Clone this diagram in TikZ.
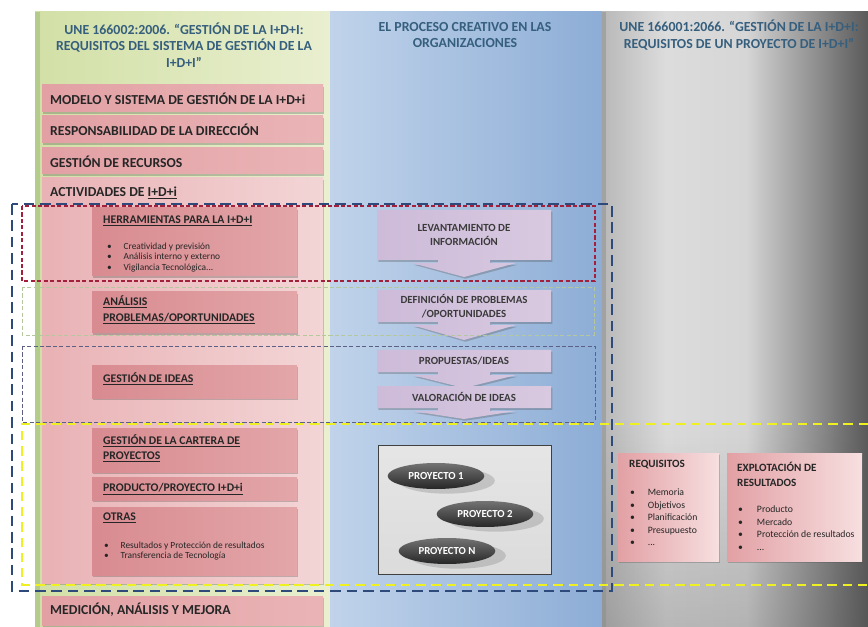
\documentclass[tikz,border=0pt]{standalone}
\usepackage{fontspec}
\setmainfont{Carlito}
\usetikzlibrary{shadows,shapes.geometric,fadings}

\definecolor{hdrblue}{HTML}{365F7E}
\definecolor{txtdark}{HTML}{262626}
\definecolor{procdark}{HTML}{3A3A3A}
\definecolor{colLA}{HTML}{D2E0A6}
\definecolor{colLB}{HTML}{E9EFD0}
\definecolor{colLedge}{HTML}{B3CC8C}
\definecolor{midA}{HTML}{C0D3EA}
\definecolor{midB}{HTML}{E2EAF4}
\definecolor{midC}{HTML}{8DADD6}
\definecolor{gA}{HTML}{B8B8B8}
\definecolor{gB}{HTML}{DCDCDC}
\definecolor{gC}{HTML}{D6D6D6}
\definecolor{gD}{HTML}{5A5A5A}
\definecolor{pinkA}{HTML}{E2A0A4}
\definecolor{pinkB}{HTML}{F7DFE0}
\definecolor{pinkC}{HTML}{EAB4B6}
\definecolor{bigA}{HTML}{E9B2B5}
\definecolor{bigB}{HTML}{F3D5D6}
\definecolor{innA}{HTML}{D88B90}
\definecolor{innB}{HTML}{E3A6A9}
\definecolor{lavA}{HTML}{CDBBD9}
\definecolor{lavB}{HTML}{F2ECF5}
\definecolor{lavC}{HTML}{D8C9E0}
\definecolor{dashblue}{HTML}{2E4A7A}
\definecolor{dashred}{HTML}{A2203C}
\definecolor{dashgreen}{HTML}{B5C79C}
\definecolor{dashslate}{HTML}{5C6084}
\definecolor{dashyellow}{HTML}{EEF022}

% grey background of the project column: light in the middle, dark to the right
\pgfdeclarehorizontalshading{greycol}{100bp}{color(0bp)=(gA); color(25bp)=(gA);
  color(37bp)=(gB); color(52bp)=(gC); color(75bp)=(gD); color(100bp)=(gD)}

\newcommand{\bl}{\makebox[14pt][l]{\textbullet}}
\newcommand{\blr}{\makebox[15pt][l]{\textbullet}}

% process step: a box whose lower edge turns into a down arrow
% #1 name, #2 left, #3 right, #4 top, #5 bottom, #6 arrow tip, #7 text
\newcommand{\procstep}[7]{%
  \path[procshape] (#2,#4) -- (#3,#4) -- (#3,#5)
    -- ({(#2+#3)/2+26},#5) -- ({(#2+#3)/2+26},{#5+3})
    -- ({(#2+#3)/2+52},{#5+3}) -- ({(#2+#3)/2},#6)
    -- ({(#2+#3)/2-52},{#5+3}) -- ({(#2+#3)/2-26},{#5+3})
    -- ({(#2+#3)/2-26},#5) -- (#2,#5) -- cycle;
  \node[proctext] (#1) at ({(#2+#3)/2},{(#4+#5)/2}) {#7};}

\begin{document}
\begin{tikzpicture}[x=0.03cm,y=-0.03cm,
  hdr/.style={font=\bfseries\fontsize{11.8}{14}\selectfont, text=hdrblue, align=center, inner sep=0pt},
  shadowed/.style={drop shadow={shadow xshift=1.2pt, shadow yshift=-1.5pt, opacity=.3, fill=black!70}},
  outerbox/.style={left color=pinkA, middle color=pinkB, right color=pinkC, shadowed},
  bigbox/.style={left color=bigA, right color=bigB, shadowed},
  innerbox/.style={left color=innA, right color=innB, shadowed},
  rbox/.style={left color=pinkA, right color=pinkB, shadowed},
  ltitle/.style={font=\bfseries\fontsize{11.7}{13}\selectfont, text=txtdark, anchor=west, inner sep=0pt},
  ititle/.style={font=\bfseries\fontsize{10}{13}\selectfont, text=txtdark, anchor=west, align=left, inner sep=0pt},
  bul/.style={font=\fontsize{8}{9}\selectfont, text=txtdark, anchor=west, align=left, inner sep=0pt},
  rbul/.style={font=\fontsize{8.3}{10.7}\selectfont, text=txtdark, anchor=west, align=left, inner sep=0pt},
  rtitle/.style={font=\bfseries\fontsize{9.5}{12.8}\selectfont, text=txtdark, anchor=west, align=left, inner sep=0pt},
  procshape/.style={left color=lavA, middle color=lavB, right color=lavC, shadowed},
  proctext/.style={font=\bfseries\fontsize{9.3}{12}\selectfont, text=procdark, align=center, inner sep=0pt},
  proj/.style={ellipse, minimum width=2.9cm, minimum height=0.78cm, top color=black!55, bottom color=black!85,
    text=white, font=\bfseries\fontsize{9.2}{10}\selectfont, inner sep=1pt,
    drop shadow={shadow xshift=9pt, shadow yshift=-4pt, opacity=.25, fill=black!60}},
  bluedash/.style={draw=dashblue, line width=1.8pt, dash pattern=on 9pt off 5pt},
  reddash/.style={draw=dashred, line width=1.3pt, dash pattern=on 3.5pt off 2pt},
  greendash/.style={draw=dashgreen, line width=0.7pt, dash pattern=on 3.5pt off 2pt},
  slatedash/.style={draw=dashslate, line width=0.7pt, dash pattern=on 3.5pt off 2pt},
  yellowdash/.style={draw=dashyellow, line width=1.9pt, dash pattern=on 8pt off 5pt}
]
\useasboundingbox (0,0) rectangle (868,627);
\fill[white] (0,0) rectangle (868,627);

% ---- column backgrounds ----
\shade[left color=colLA, right color=colLB] (35,12) rectangle (330,627);
\fill[colLedge] (35,12) rectangle (40,627);
\shade[left color=midA, middle color=midB, right color=midC] (330,12) rectangle (602,627);
\shade[shading=greycol] (602,12) rectangle (868,627);
\fill[black!70, path fading=north, opacity=.25] (602,420) rectangle (868,627);
\fill[black!45, opacity=.5] (602,12) rectangle (606,627);

% ---- column headings ----
\node[hdr] (hleft) at (184,45) {UNE 166002:2006. “GESTIÓN DE LA I+D+I:\\REQUISITOS DEL SISTEMA DE GESTIÓN DE LA\\I+D+I”};
\node[hdr] (hmid) at (465,35) {EL PROCESO CREATIVO EN LAS\\ORGANIZACIONES};
\node[hdr] (hright) at (739,35) {UNE 166001:2066. “GESTIÓN DE LA I+D+I:\\REQUISITOS DE UN PROYECTO DE I+D+I”};

% ---- management system blocks ----
\path[outerbox] (42,85) rectangle (323,112);
\node[ltitle] (modelo) at (50,98.5) {MODELO Y SISTEMA DE GESTIÓN DE LA I+D+i};
\path[outerbox] (42,116) rectangle (323,143);
\node[ltitle] (direccion) at (50,130) {RESPONSABILIDAD DE LA DIRECCIÓN};
\path[outerbox] (42,148) rectangle (323,174);
\node[ltitle] (recursos) at (50,161.5) {GESTIÓN DE RECURSOS};
\path[bigbox] (42,178) rectangle (323,583);
\node[ltitle] (actividades) at (50,193) {ACTIVIDADES DE \underline{I+D+i}};
\path[outerbox] (42,596) rectangle (323,625);
\node[ltitle] (medicion) at (50,610) {MEDICIÓN, ANÁLISIS Y MEJORA};

% ---- activities ----
\path[innerbox] (92,208) rectangle (297,276);
\node[ititle] (herr) at (103,221) {\underline{HERRAMIENTAS PARA LA I+D+I}};
\node[bul] (herrlist) at (107,257.5) {\bl Creatividad y previsión\\\bl Análisis interno y externo\\\bl Vigilancia Tecnológica...};

\path[innerbox] (92,292) rectangle (297,333);
\node[ititle] (analisis) at (103,310) {\underline{ANÁLISIS}\\\underline{PROBLEMAS/OPORTUNIDADES}};

\path[innerbox] (92,365) rectangle (297,398);
\node[ititle] (ideas) at (103,378.5) {\underline{GESTIÓN DE IDEAS}};

\path[innerbox] (92,428) rectangle (297,472);
\node[ititle] (cartera) at (103,448) {\underline{GESTIÓN DE LA CARTERA DE}\\\underline{PROYECTOS}};

\path[innerbox] (92,477) rectangle (297,500);
\node[ititle] (producto) at (103,489) {\underline{PRODUCTO/PROYECTO I+D+i}};

\path[innerbox] (92,507) rectangle (297,575);
\node[ititle] (otras) at (103,518) {\underline{OTRAS}};
\node[bul] (otraslist) at (104,551) {\bl Resultados y Protección de resultados\\\bl Transferencia de Tecnología};

% ---- creative process ----
\procstep{levantamiento}{377}{551}{210}{260}{277}{LEVANTAMIENTO DE\\INFORMACIÓN}
\procstep{definicion}{377}{551}{290}{322}{340}{DEFINICIÓN DE PROBLEMAS\\/OPORTUNIDADES}
\procstep{propuestas}{377}{551}{350}{372}{388}{PROPUESTAS/IDEAS}
\procstep{valoracion}{377}{551}{386}{408}{419}{VALORACIÓN DE IDEAS}

% ---- project portfolio ----
\path[top color=black!10, bottom color=black!14, draw=black!75, line width=0.8pt] (378,445) rectangle (551,574);
\node[proj] (p1) at (436,476) {PROYECTO 1};
\node[proj] (p2) at (485,514) {PROYECTO 2};
\node[proj] (pn) at (447,551) {PROYECTO N};

% ---- project requirements ----
\path[rbox] (618,453) rectangle (719,561);
\node[rtitle] (requisitos) at (629,465) {REQUISITOS};
\node[rbul] (reqlist) at (630,517.5) {\blr Memoria\\\blr Objetivos\\\blr Planificación\\\blr Presupuesto\\\blr ...};
\path[rbox] (727,453) rectangle (862,561);
\node[rtitle] (explotacion) at (737,474.5) {EXPLOTACIÓN DE\\RESULTADOS};
\node[rbul] (explist) at (738,528) {\makebox[16pt][l]{\textbullet}Producto\\\makebox[16pt][l]{\textbullet}Mercado\\\makebox[16pt][l]{\textbullet}Protección de resultados\\\makebox[16pt][l]{\textbullet}...};

% ---- dashed groupings ----
\draw[greendash] (22,287) rectangle (594,335);
\draw[slatedash] (22,346) rectangle (595,422);
\draw[reddash] (22,206) rectangle (595,281);
\draw[yellowdash] (868,424) -- (22,424) -- (22,585) -- (868,585);
\draw[bluedash] (12,204) rectangle (612,591);
\end{tikzpicture}
\end{document}
